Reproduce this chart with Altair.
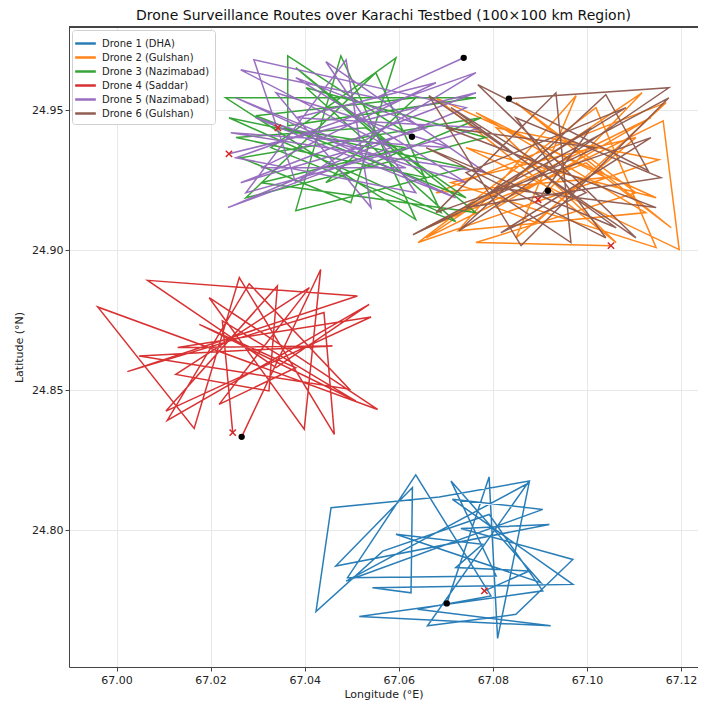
import altair as alt
import pandas as pd

names = ["Drone 1 (DHA)", "Drone 2 (Gulshan)", "Drone 3 (Nazimabad)",
         "Drone 4 (Saddar)", "Drone 5 (Nazimabad)", "Drone 6 (Gulshan)"]
colors = ["#1f77b4", "#ff7f0e", "#2ca02c", "#d62728", "#9467bd", "#8c564b"]

d1_lon = [67.0702, 67.0792, 67.0810, 67.0877, 67.0488, 67.0906, 67.0714, 67.0970, 67.0544, 67.0626,
          67.0629, 67.0466, 67.0920, 67.0732, 67.0970, 67.0849, 67.0661, 67.0877, 67.0686, 67.0456,
          67.0424, 67.0566, 67.0792, 67.0906, 67.0516, 67.0923, 67.0640, 67.0796, 67.0636, 67.0491,
          67.0807, 67.0711, 67.0902, 67.0594, 67.0778, 67.0721, 67.0877, 67.0782]
d1_lat = [24.7739, 24.8191, 24.7614, 24.8170, 24.7819, 24.8075, 24.8111, 24.7807, 24.7795, 24.7777,
          24.8153, 24.7873, 24.8021, 24.8007, 24.7896, 24.7700, 24.7659, 24.8176, 24.8119, 24.8081,
          24.7710, 24.7926, 24.8057, 24.7784, 24.7692, 24.7659, 24.7718, 24.7766, 24.8198, 24.7831,
          24.7837, 24.8176, 24.7813, 24.7986, 24.7950, 24.7867, 24.7855, 24.7784]

d2_lon = [67.0917, 67.1117, 67.0658, 67.1162, 67.1196, 67.0743, 67.1147, 67.0679, 67.1062, 67.0807,
          67.1153, 67.0641, 67.1019, 67.1147, 67.0711, 67.1104, 67.0849, 67.0977, 67.0726, 67.1125,
          67.0764, 67.1040, 67.0679, 67.1168, 67.0892, 67.0807, 67.1136, 67.0658, 67.0998, 67.1179,
          67.0849, 67.1104, 67.0764, 67.1051]
d2_lat = [24.9213, 24.9563, 24.9045, 24.9463, 24.9003, 24.9367, 24.9188, 24.9545, 24.9028, 24.9438,
          24.9324, 24.9028, 24.9510, 24.9010, 24.9242, 24.9403, 24.9045, 24.9553, 24.9070, 24.9135,
          24.9492, 24.9260, 24.9206, 24.9528, 24.9099, 24.9153, 24.9474, 24.9081, 24.9313, 24.9081,
          24.9528, 24.9206, 24.9028, 24.9017]

d3_lon = [67.0628, 67.0364, 67.0364, 67.0764, 67.0232, 67.0636, 67.0477, 67.0381, 67.0743, 67.0239,
          67.0690, 67.0551, 67.0275, 67.0785, 67.0403, 67.0721, 67.0328, 67.0594, 67.0498, 67.0264,
          67.0775, 67.0445, 67.0636, 67.0296, 67.0743, 67.0530, 67.0254, 67.0658, 67.0381, 67.0764,
          67.0307, 67.0615, 67.0343]
d3_lat = [24.9406, 24.9695, 24.9445, 24.9545, 24.9545, 24.9110, 24.9695, 24.9142, 24.9295, 24.9474,
          24.9135, 24.9635, 24.9188, 24.9403, 24.9581, 24.9103, 24.9367, 24.9688, 24.9170, 24.9331,
          24.9474, 24.9242, 24.9545, 24.9481, 24.9188, 24.9438, 24.9403, 24.9260, 24.9653, 24.9135,
          24.9242, 24.9367, 24.9438]

d4_lon = [67.0266, 67.0434, 67.0399, 67.0197, 67.0555, 66.9960, 67.0165, 67.0261, 67.0463, 67.0441,
          67.0023, 67.0512, 67.0066, 67.0339, 67.0537, 67.0108, 67.0282, 67.0495, 67.0048, 67.0459,
          67.0130, 67.0541, 67.0105, 67.0342, 67.0324, 67.0126, 67.0410, 67.0218, 67.0381, 67.0176,
          67.0509, 67.0225, 67.0247]
d4_lat = [24.8334, 24.8932, 24.8361, 24.8831, 24.8432, 24.8798, 24.8364, 24.8903, 24.8343, 24.8778,
          24.8567, 24.8837, 24.8893, 24.8581, 24.8807, 24.8393, 24.8881, 24.8504, 24.8623, 24.8659,
          24.8653, 24.8762, 24.8426, 24.8873, 24.8498, 24.8557, 24.8867, 24.8450, 24.8581, 24.8736,
          24.8462, 24.8748, 24.8349]

d5_lon = [67.0738, 67.0551, 67.0264, 67.0583, 67.0237, 67.0743, 67.0292, 67.0381, 67.0764, 67.0254,
          67.0636, 67.0445, 67.0785, 67.0243, 67.0711, 67.0339, 67.0541, 67.0488, 67.0275, 67.0775,
          67.0381, 67.0679, 67.0307, 67.0615, 67.0254, 67.0721, 67.0424, 67.0296, 67.0743, 67.0381,
          67.0658, 67.0264, 67.0764, 67.0239]
d5_lat = [24.9688, 24.9545, 24.9645, 24.9367, 24.9153, 24.9510, 24.9681, 24.9242, 24.9635, 24.9331,
          24.9206, 24.9674, 24.9278, 24.9420, 24.9367, 24.9563, 24.9153, 24.9681, 24.9206, 24.9438,
          24.9474, 24.9599, 24.9295, 24.9295, 24.9545, 24.9188, 24.9385, 24.9474, 24.9242, 24.9617,
          24.9438, 24.9242, 24.9563, 24.9345]

d6_lon = [67.0834, 67.1174, 67.0728, 67.1040, 67.1130, 67.0768, 67.1104, 67.0664, 67.0860, 67.1174,
          67.0630, 67.1019, 67.0700, 67.1147, 67.0807, 67.1083, 67.0743, 67.0966, 67.0934, 67.0679,
          67.1136, 67.0817, 67.0998, 67.0711, 67.1062, 67.0658, 67.1040, 67.0849, 67.1157, 67.0743,
          67.1009, 67.0896]
d6_lat = [24.9542, 24.9581, 24.9070, 24.9556, 24.9285, 24.9592, 24.9045, 24.9553, 24.9017, 24.9545,
          24.9056, 24.9367, 24.9438, 24.9153, 24.9224, 24.9510, 24.9278, 24.9028, 24.9563, 24.9135,
          24.9403, 24.9063, 24.9206, 24.9510, 24.9081, 24.9367, 24.9045, 24.9474, 24.9260, 24.9153,
          24.9438, 24.9181]

x_ticks = [67.00, 67.02, 67.04, 67.06, 67.08, 67.10, 67.12]
y_ticks = [24.80, 24.85, 24.90, 24.95]

routes = [(d1_lon, d1_lat), (d2_lon, d2_lat), (d3_lon, d3_lat),
          (d4_lon, d4_lat), (d5_lon, d5_lat), (d6_lon, d6_lat)]

rows = []
ends = []
for i, (lo, la) in enumerate(routes):
    for k, (a, b) in enumerate(zip(lo, la)):
        rows.append({"drone": names[i], "step": k, "lon": a, "lat": b})
    ends.append({"drone": names[i], "kind": "start", "lon": lo[0], "lat": la[0]})
    ends.append({"drone": names[i], "kind": "end", "lon": lo[-1], "lat": la[-1]})
df = pd.DataFrame(rows)
ep = pd.DataFrame(ends)

FONT = "DejaVu Sans"
W, H = 629, 640
xs = alt.Scale(domain=[66.9899, 67.1236], nice=False, zero=False)
ys = alt.Scale(domain=[24.7512, 24.9798], nice=False, zero=False)

xenc = alt.X("lon:Q", scale=xs, title="Longitude (°E)",
             axis=alt.Axis(values=x_ticks, format=".2f", labelFontSize=11, titleFontSize=11,
                           titleFontWeight="normal", labelFont=FONT, titleFont=FONT,
                           gridColor="#e8e8e8", domainColor="#444", tickColor="#444",
                           labelColor="#222", titleColor="#222", titlePadding=3,
                           labelPadding=3, tickSize=4))
yenc = alt.Y("lat:Q", scale=ys, title="Latitude (°N)",
             axis=alt.Axis(values=y_ticks, format=".2f", labelFontSize=11, titleFontSize=11,
                           titleFontWeight="normal", labelFont=FONT, titleFont=FONT,
                           gridColor="#e8e8e8", domainColor="#444", tickColor="#444",
                           labelColor="#222", titleColor="#222", titlePadding=7, tickSize=4))

lines = alt.Chart(df).mark_line(strokeWidth=1.5, opacity=0.95).encode(
    x=xenc, y=yenc,
    color=alt.Color("drone:N", scale=alt.Scale(domain=names, range=colors),
                    legend=alt.Legend(title=None, orient="top-left", offset=3,
                                      symbolType="M-1.5,0L1.5,0", symbolStrokeWidth=2.5,
                                      symbolSize=190, labelFontSize=10, labelFont=FONT,
                                      labelColor="#222", rowPadding=0, labelOffset=8,
                                      fillColor="white", strokeColor="#d0d0d0",
                                      cornerRadius=3, padding=5)),
    detail="drone:N",
    order="step:Q",
)

starts = alt.Chart(ep).transform_filter(alt.datum.kind == "start").mark_point(
    filled=True, color="black", size=40, opacity=1, shape="circle"
).encode(x="lon:Q", y="lat:Q")

stops = alt.Chart(ep).transform_filter(alt.datum.kind == "end").mark_point(
    filled=False, color="#d62728", size=40, strokeWidth=1.5, opacity=1,
    shape="M-1,-1L1,1M1,-1L-1,1"
).encode(x="lon:Q", y="lat:Q")

top_spine = alt.Chart(ep).mark_rule(color="#444", strokeWidth=1).encode(
    x=alt.value(0), x2=alt.value(W), y=alt.value(0))

chart = alt.layer(lines, starts, stops, top_spine).properties(
    width=W, height=H,
    title=alt.Title("Drone Surveillance Routes over Karachi Testbed (100×100 km Region)",
                    fontSize=14, fontWeight="normal", font=FONT, color="#111", offset=4),
    autosize="none",
    padding={"left": 61, "top": 19, "right": 0, "bottom": 35},
).configure_view(stroke=None)

chart.save("out.html", embed_options={"renderer": "svg", "actions": False})
